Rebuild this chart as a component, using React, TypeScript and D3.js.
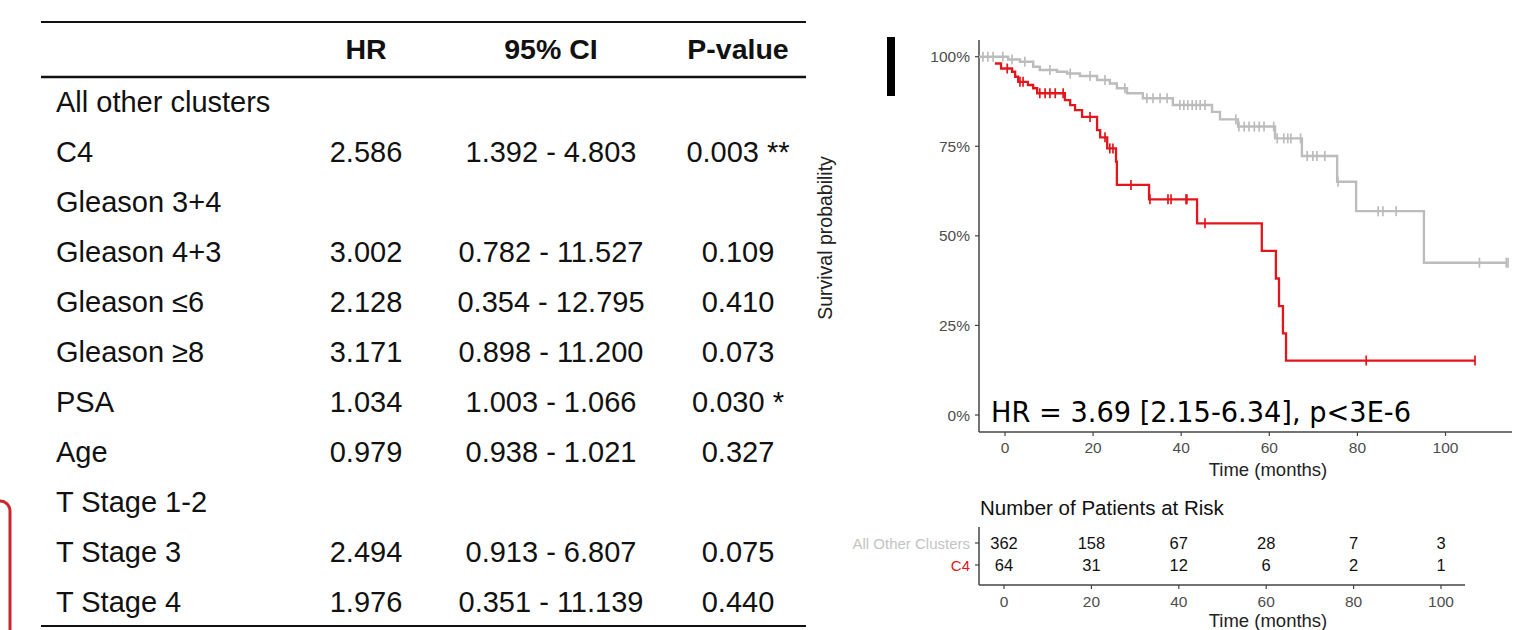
import React from 'react';
import * as d3 from 'd3';

// ---------- Table data ----------
const headers = ['HR', '95% CI', 'P-value'];
const rowLabels = [
  'All other clusters', 'C4', 'Gleason 3+4', 'Gleason 4+3', 'Gleason ≤6', 'Gleason ≥8',
  'PSA', 'Age', 'T Stage 1-2', 'T Stage 3', 'T Stage 4',
];
const hrValues = ['', '2.586', '', '3.002', '2.128', '3.171', '1.034', '0.979', '', '2.494', '1.976'];
const ciValues = ['', '1.392 - 4.803', '', '0.782 - 11.527', '0.354 - 12.795', '0.898 - 11.200',
  '1.003 - 1.066', '0.938 - 1.021', '', '0.913 - 6.807', '0.351 - 11.139'];
const pValues = ['', '0.003 **', '', '0.109', '0.410', '0.073', '0.030 *', '0.327', '', '0.075', '0.440'];

// ---------- Kaplan-Meier data (months, survival) ----------
const otherTimes = [-5.9, 0.7, 3.4, 6.4, 7.9, 11.8, 14.1, 17.0, 20.9, 23.8, 25.4, 27.7, 31.3, 38.1,
  47.0, 48.8, 52.9, 61.3, 67.4, 75.4, 79.7, 95.1];
const otherSurv = [1.0, 0.992, 0.986, 0.972, 0.963, 0.958, 0.953, 0.946, 0.935, 0.925, 0.912, 0.898,
  0.884, 0.865, 0.846, 0.825, 0.805, 0.772, 0.723, 0.651, 0.569, 0.425];
const otherEnd = 114.0;
const otherCensor = [-5.0, -3.9, -2.7, -0.5, 1.6, 4.5, 10.2, 14.8, 19.3, 22.7, 27.2, 32.2, 33.6, 35.2,
  36.8, 39.7, 40.6, 41.5, 42.5, 43.4, 44.3, 45.4, 52.4, 53.1, 54.3, 55.4, 56.6, 57.7, 58.8, 61.0,
  61.8, 63.3, 64.2, 64.9, 67.1, 68.6, 69.9, 70.8, 72.6, 75.6, 84.7, 85.8, 88.8, 107.7, 113.8, 114.2];

const c4Times = [-2.3, -0.9, 1.6, 2.3, 3.0, 5.2, 6.4, 7.3, 13.6, 14.8, 15.9, 17.5, 20.9, 21.6, 23.2,
  25.2, 25.4, 32.7, 43.6, 58.3, 61.5, 62.2, 63.1, 63.8];
const c4Surv = [0.981, 0.967, 0.958, 0.944, 0.930, 0.921, 0.912, 0.898, 0.879, 0.865, 0.851, 0.832,
  0.795, 0.775, 0.744, 0.707, 0.642, 0.602, 0.535, 0.458, 0.381, 0.304, 0.228, 0.152];
const c4End = 106.7;
const c4Censor = [0.5, 3.4, 4.1, 7.9, 9.1, 10.2, 11.4, 13.2, 19.3, 22.7, 23.8, 24.5, 28.6, 32.9, 37.0,
  37.7, 41.1, 41.3, 45.4, 82.0, 106.7];

const survTicks = [0, 0.25, 0.5, 0.75, 1];
const timeTicks = [0, 20, 40, 60, 80, 100];

// ---------- Risk table ----------
const riskGroups = ['All Other Clusters', 'C4'];
const riskOther = [362, 158, 67, 28, 7, 3];
const riskC4 = [64, 31, 12, 6, 2, 1];

const GREY = '#bcbcbc';
const RED = '#e3161b';
const AX = '#444';
const TXT = '#4d4d4d';

function survAt(times: number[], surv: number[], t: number) {
  let s = surv[0];
  for (let i = 0; i < times.length; i++) if (times[i] <= t) s = surv[i];
  return s;
}

export default function App() {
  const tableFont = '"Liberation Sans", Arial, sans-serif';
  const rowY = d3.scaleLinear().domain([0, rowLabels.length - 1]).range([111.7, 611.7]);
  const colX = [366, 551, 738];

  const xKM = d3.scaleLinear().domain([0, 100]).range([1005, 1445.5]);
  const yKM = d3.scaleLinear().domain([0, 1]).range([415, 56.7]);
  const line = d3.line<[number, number]>()
    .x((d) => xKM(d[0]))
    .y((d) => yKM(d[1]))
    .curve(d3.curveStepAfter);

  const mk = (times: number[], surv: number[], end: number): [number, number][] => {
    const pts: [number, number][] = times.map((t, i) => [t, surv[i]]);
    pts.push([end, surv[surv.length - 1]]);
    return pts;
  };
  const otherPath = line(mk(otherTimes, otherSurv, otherEnd)) || '';
  const c4Path = line(mk(c4Times, c4Surv, c4End)) || '';

  const xRisk = d3.scaleLinear().domain([0, 100]).range([1004, 1441]);
  const riskRowY = d3.scalePoint<string>().domain(riskGroups).range([549, 571]);

  const axisLeft = 979;
  const axisBottom = 432;

  return (
    <svg width={1516} height={630} style={{ position: 'absolute', left: 0, top: 0, background: '#fff' }}
      fontFamily={tableFont}>
      <rect x={0} y={0} width={1516} height={630} fill="#fff" />

      {/* red rounded frame fragment at left */}
      <rect x={-22} y={501} width={32} height={200} rx={10} fill="none" stroke="#c8282d" strokeWidth={3} />

      {/* ---------- Table ---------- */}
      <line x1={41} x2={806} y1={22} y2={22} stroke="#111" strokeWidth={2} />
      <line x1={41} x2={806} y1={77} y2={77} stroke="#111" strokeWidth={2.5} />
      <line x1={41} x2={806} y1={626} y2={626} stroke="#111" strokeWidth={2} />
      {headers.map((h, i) => (
        <text key={h} x={colX[i]} y={59} textAnchor="middle" fontSize={28.5} fontWeight="bold" fill="#111">{h}</text>
      ))}
      {rowLabels.map((lab, i) => (
        <g key={lab} fontSize={29} fill="#111">
          <text x={56} y={rowY(i)}>{lab}</text>
          <text x={colX[0]} y={rowY(i)} textAnchor="middle">{hrValues[i]}</text>
          <text x={colX[1]} y={rowY(i)} textAnchor="middle">{ciValues[i]}</text>
          <text x={colX[2]} y={rowY(i)} textAnchor="middle">{pValues[i]}</text>
        </g>
      ))}

      {/* black bar */}
      <rect x={887} y={37} width={8} height={59} fill="#000" />

      {/* ---------- KM plot ---------- */}
      <line x1={axisLeft} x2={axisLeft} y1={40} y2={axisBottom} stroke={AX} strokeWidth={1.5} />
      <line x1={axisLeft} x2={1512} y1={axisBottom} y2={axisBottom} stroke={AX} strokeWidth={1.5} />
      {survTicks.map((t) => (
        <g key={t}>
          <line x1={axisLeft - 4} x2={axisLeft} y1={yKM(t)} y2={yKM(t)} stroke={AX} strokeWidth={1.2} />
          <text x={970} y={yKM(t) + 5.5} textAnchor="end" fontSize={15.5} fill={TXT}>{`${t * 100}%`}</text>
        </g>
      ))}
      {timeTicks.map((t) => (
        <g key={t}>
          <line x1={xKM(t)} x2={xKM(t)} y1={axisBottom} y2={axisBottom + 4} stroke={AX} strokeWidth={1.2} />
          <text x={xKM(t)} y={453} textAnchor="middle" fontSize={15.5} fill={TXT}>{t}</text>
        </g>
      ))}
      <text x={1268} y={476} textAnchor="middle" fontSize={18.5} fill="#222">Time (months)</text>
      <text transform="translate(832,238) rotate(-90)" textAnchor="middle" fontSize={19.5} fill="#222">Survival probability</text>

      <path d={c4Path} fill="none" stroke={RED} strokeWidth={2.3} />
      <path d={otherPath} fill="none" stroke={GREY} strokeWidth={2.4} />
      {otherCensor.map((t, i) => {
        const yy = yKM(survAt(otherTimes, otherSurv, t));
        return <line key={'o' + i} x1={xKM(t)} x2={xKM(t)} y1={yy - 5} y2={yy + 5} stroke={GREY} strokeWidth={1.7} />;
      })}
      {c4Censor.map((t, i) => {
        const yy = yKM(survAt(c4Times, c4Surv, t));
        return <line key={'c' + i} x1={xKM(t)} x2={xKM(t)} y1={yy - 5} y2={yy + 5} stroke={RED} strokeWidth={1.7} />;
      })}

      <text x={991} y={421.5} fontSize={29} fontFamily='"DejaVu Sans", sans-serif' fill="#000"
        textLength={420} lengthAdjust="spacingAndGlyphs">HR = 3.69 [2.15-6.34], p&lt;3E-6</text>

      {/* ---------- Risk table ---------- */}
      <text x={980} y={515} fontSize={20.5} fill="#111">Number of Patients at Risk</text>
      <line x1={axisLeft} x2={axisLeft} y1={527} y2={585} stroke={AX} strokeWidth={1.5} />
      <line x1={axisLeft} x2={1465} y1={585} y2={585} stroke={AX} strokeWidth={1.5} />
      {riskGroups.map((g, gi) => (
        <g key={g}>
          <line x1={axisLeft - 4} x2={axisLeft} y1={(riskRowY(g) || 0) - 6} y2={(riskRowY(g) || 0) - 6} stroke={AX} strokeWidth={1.2} />
          <text x={970} y={riskRowY(g)} textAnchor="end" fontSize={15} fill={gi === 0 ? '#c4c4c4' : RED}>{g}</text>
        </g>
      ))}
      {timeTicks.map((t, i) => (
        <g key={'r' + t} fontSize={16.5} fill="#111" textAnchor="middle">
          <text x={xRisk(t)} y={riskRowY(riskGroups[0])}>{riskOther[i]}</text>
          <text x={xRisk(t)} y={riskRowY(riskGroups[1])}>{riskC4[i]}</text>
          <line x1={xRisk(t)} x2={xRisk(t)} y1={585} y2={589} stroke={AX} strokeWidth={1.2} />
          <text x={xRisk(t)} y={607} fontSize={15.5} fill={TXT}>{t}</text>
        </g>
      ))}
      <text x={1268} y={627} textAnchor="middle" fontSize={18.5} fill="#222">Time (months)</text>
    </svg>
  );
}
